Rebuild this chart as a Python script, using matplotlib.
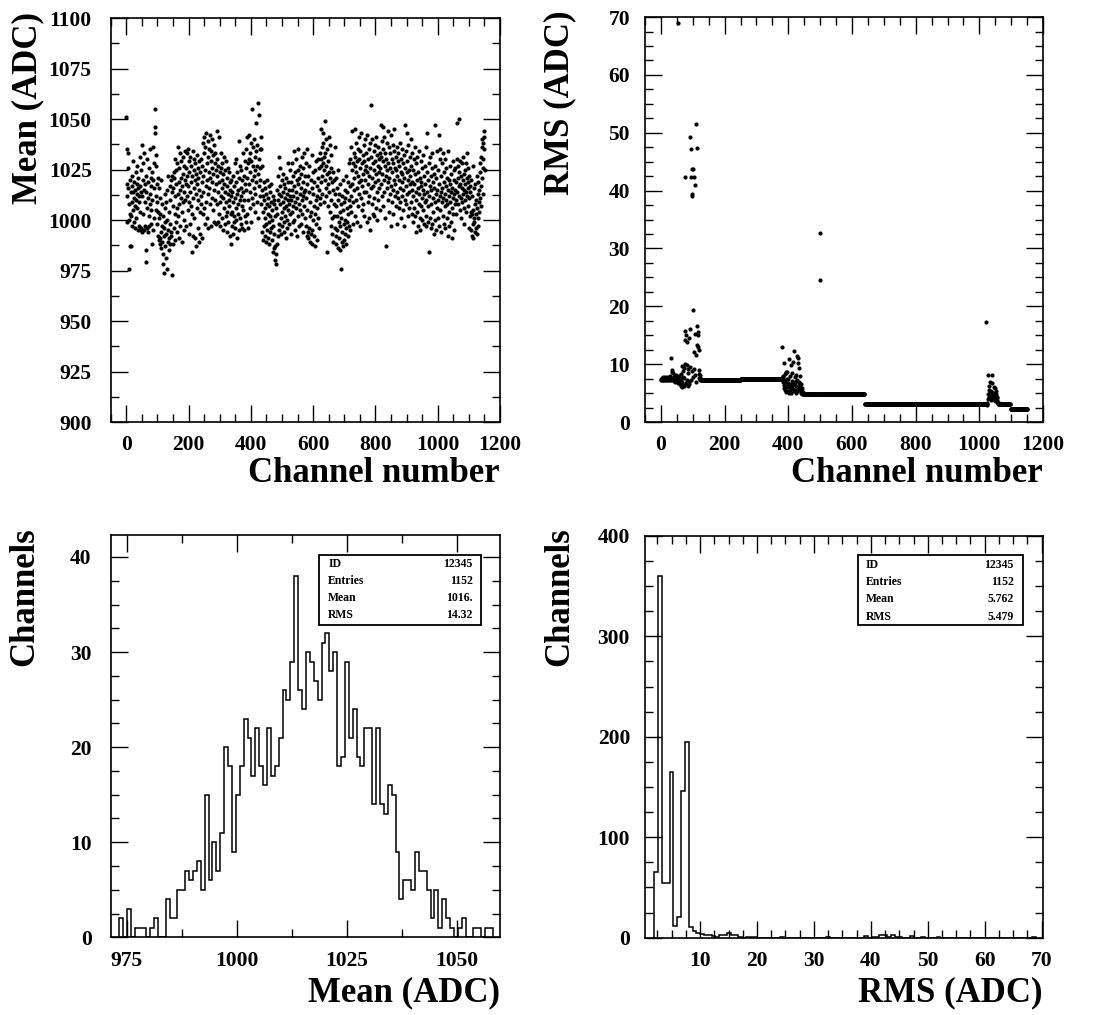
import matplotlib.pyplot as plt
import numpy as np
from matplotlib.ticker import MultipleLocator
from matplotlib.patches import Rectangle

plt.rcParams['font.family'] = ['Liberation Serif', 'DejaVu Serif']
plt.rcParams['font.weight'] = 'bold'

# ---- data -------------------------------------------------------------
n_channels = 1152
channel = np.arange(n_channels)

# pedestal mean per channel, minus 1000 ADC (read block by block, 48 per line)
mean_minus_1000 = [
    51, 18, 35, 12, -1, 26, 33, 16, -24, 0, 8, 20, 3, -13, 14, -13, 2, 17, 9, 22, -3, 14, 29, 5, 11, -1, 19, 7, 15, -4, 24, 10, 1, 18, 13, 6, 27, -5, 16, 21, 9, -3, 12, 31, 4, 17, -5, 14,
    -4, 25, 37, 12, -6, 20, 28, 3, 15, -5, 33, 9, 18, -3, 22, -21, -15, 14, 6, 30, -4, 11, 19, -6, 26, 2, -3, 13, 35, 8, 21, -2, 17, 5, -12, 24, 10, 36, -5, 20, 28, 1, 16, 55, 46, 43, 27, 12,
    5, 32, -2, 18, 9, -8, 21, 4, -10, 16, 1, -12, -9, 11, 3, -14, -6, 20, -11, -3, 8, -17, -22, 2, -8, -26, -4, 13, -13, 6, -1, -19, 9, -7, -24, 15, 0, -11, -5, 22, -15, 4, -9, 17, -2, -12, 10, -6,
    20, -8, 14, -27, 22, -12, 7, 16, -4, 24, 21, 3, -10, 12, 30, -1, 18, 25, 6, -6, 28, 13, 36, 2, 19, -9, 26, 8, 15, 33, -3, 21, 11, 29, 4, 17, -11, 23, 9, 31, 14, 0, 27, -5, 20, 34, 10, 18,
    26, -3, 33, 12, 22, 5, 35, 17, -7, 29, 9, 24, 14, -2, 31, 19, 7, 27, -16, 22, 3, 34, 11, -8, 25, 16, 30, 1, 20, -9, 28, 13, -13, 23, 6, 32, 18, -4, 26, 10, 21, -11, 15, 29, 4, -7, 24, 8,
    12, 30, -9, 19, 27, 3, 38, 22, 14, 41, 6, 33, 25, -2, 36, 17, 9, 43, 28, 1, 20, 39, 13, 31, -4, 24, 35, 16, 8, 42, 21, 29, -3, 34, 11, 26, 19, 40, 5, 32, 23, -1, 37, 15, 28, 10, 33, 18,
    25, -2, 22, 8, 44, 30, 14, -1, 27, 19, 3, 41, 24, 9, -3, 26, 12, 33, 20, 1, 16, 28, -5, 23, 11, 31, 6, 18, -2, 25, 14, 2, 29, 9, 21, -6, 17, 4, 26, 13, -1, 10, 24, 7, 19, -8, 15, 3,
    12, -12, 20, 4, -3, 14, 22, -7, 9, 2, 17, -1, 28, 11, -4, 6, 19, 30, 0, 13, -9, 24, 8, 15, 3, 39, -5, 21, 10, 27, 1, 16, -2, 12, 25, -4, 20, 7, 33, 14, 5, -5, 22, 10, 2, 18, 29, -1,
    26, 15, 35, 3, 21, 41, 28, 10, -4, 30, 18, 42, 24, 6, 33, 14, 29, -1, 38, 20, 11, 55, 27, 36, 8, 22, 40, 16, 31, 4, 25, 13, 34, 19, 48, 9, 27, 37, 23, 1, 58, 30, 17, 52, 26, 35, 12, 20,
    35, 41, 8, 27, 15, -6, 12, -10, 4, 19, -3, 10, -8, 6, 16, 1, -11, 13, -2, 8, 20, -5, 3, 11, -9, 17, -1, 7, -12, 14, 2, -6, 9, -4, 18, 0, -10, 5, -16, 12, -3, 8, -14, -7, 10, -20, 2, -13,
    -22, -17, 6, -12, 15, 3, -8, 22, 10, -2, 31, 13, -5, 26, 8, 17, 1, -7, 12, 20, 4, -3, 9, 23, 14, -1, 6, 18, -6, 11, 2, 16, -9, 7, 21, 0, 13, -4, 19, 5, 28, 10, -2, 15, 8, 25, 3, 12,
    -7, 19, 10, 28, 4, 15, -1, 22, 12, 7, 34, 17, 0, 24, 9, -5, 14, 30, 6, 20, -8, 11, 25, 2, 18, 35, 8, -3, 21, 13, 27, 5, 16, -2, 23, 10, 31, 3, 19, 12, -6, 26, 14, 33, 7, 1, 22, 15,
    -3, 28, 11, -8, 18, 35, 5, -6, 22, -9, 14, -4, 27, 2, -11, 9, -7, 20, 4, -12, 16, 32, -5, 13, 0, 24, -8, 7, 19, -13, 3, 25, 10, -2, 29, 6, 17, -10, 12, 30, 1, 21, -4, 15, 26, 8, 33, 11,
    27, 19, 45, 30, 22, 36, 13, 43, 28, 38, 9, 31, 25, 49, 20, 33, 16, 40, 27, 12, 35, 23, -16, 18, 29, 7, 41, 14, 24, 4, 37, 21, -3, 26, 10, 32, 1, 19, -7, 15, 24, -11, 8, 20, 2, 36, -4, 13,
    -8, 7, 21, -12, 2, 16, -5, 10, -14, 25, -1, -9, 13, 4, -15, 18, -3, 8, -24, 1, -11, 12, -6, 20, -13, 5, -2, 9, -10, 15, -7, 0, 11, -4, 22, -12, 6, -1, 14, -8, 3, 19, -3, 10, 28, -5, 7, 17,
    30, 12, 36, 4, 25, 18, 44, 9, 28, -2, 33, 21, 15, 45, 27, 2, 31, 10, 24, 38, 16, -1, 29, 35, 7, 22, 41, 19, 13, 30, -3, 26, 34, 11, 20, 43, 5, 28, 17, 32, 23, 8, 37, 14, 29, 2, 25, 40,
    20, 33, 14, 27, -1, 24, 42, 9, 30, 18, 1, 35, 22, 12, 38, -5, 26, 16, 57, 31, 8, 21, 40, 3, 28, 17, 34, 11, 25, 2, 37, 19, 29, 6, 23, 41, 14, 32, 0, 27, 20, 36, 10, 24, 16, 30, 5, 33,
    26, 47, 18, 31, 12, 39, 23, 46, 29, 7, 35, 20, 14, 41, 27, 1, 33, 22, -13, 30, 16, 38, 25, 10, 44, 19, 28, 4, 36, 21, 13, 33, 26, -3, 42, 17, 30, 9, 24, 37, 15, 28, 3, 34, 20, 45, 12, 26,
    18, 31, 7, 25, 36, 14, 22, -2, 29, 11, 33, 20, 6, 27, 16, 38, 9, 24, 1, 30, 19, 12, 35, 23, 5, 28, 15, -3, 32, 21, 10, 26, 47, 17, 8, 34, 24, 13, 43, 29, 2, 20, 37, 14, 25, 6, 31, 18,
    22, 40, 9, 27, 15, 3, 33, 19, -1, 25, 12, 30, 6, 18, 36, 2, 23, 14, -6, 28, 10, 20, 4, 31, 16, -3, 24, 8, 34, 13, 1, 21, -5, 17, 29, 7, 19, 11, 26, 0, 15, 32, 5, 22, -2, 13, 27, 9,
    18, -3, 10, 36, 2, 24, 14, 43, -1, 20, 7, -16, 28, 12, 1, 31, 17, -4, 22, 8, 15, 33, -2, 26, 11, 4, 19, -7, 23, 16, 0, 47, 9, 27, 13, -5, 21, 6, 34, 15, 1, 25, 10, 42, 18, -3, 30, 12,
    5, 35, 14, -6, 22, 9, 28, 16, 2, 33, 11, -2, 19, 24, 7, 13, 30, -4, 17, 10, 26, 1, 21, 8, -8, 15, 34, 4, 12, 20, -3, 27, 9, 18, -1, 14, 23, 6, -9, 16, 11, 29, 3, 20, -5, 13, 25, 8,
    15, 26, 10, 19, 3, 30, 14, 48, 21, 8, 27, 17, 50, 12, 24, 5, 29, 18, 11, 22, 1, 16, 28, 9, 20, 13, 31, 6, 23, 15, -2, 25, 18, 10, 28, 14, 4, 21, 33, 12, 19, 7, 26, 16, -4, 22, 11, 17,
    2, 14, -5, 20, 4, -8, 12, 3, -2, 27, 5, -9, 16, 1, -1, 8, -6, 18, 3, 10, -4, 22, 6, -7, 13, 1, 19, -3, 9, 15, 4, 24, 11, 28, 7, 31, 17, 36, 21, 40, 26, 13, 38, 30, 44, 35, 41, 25,
]
mean_adc = 1000 + np.array(mean_minus_1000, dtype=float)

# pedestal RMS per channel: flat bands plus the noisy regions read point by point
rms_bands = [(130, 250, 7.2), (250, 380, 7.5), (450, 640, 4.9),
             (640, 1020, 3.1), (1060, 1098, 3.2), (1098, 1152, 2.3)]
rms_ch0_129 = [
    7.5, 7.3, 7.6, 7.4, 7.2, 7.5, 7.7, 7.3, 7.4, 7.6,
    7.3, 7.5, 7.8, 7.4, 7.2, 7.6, 7.5, 7.3, 7.7, 7.4,
    7.6, 7.2, 7.5, 7.3, 7.8, 7.4, 7.6, 7.5, 7.3, 7.9,
    7.4, 11.1, 7.6, 7.2, 8.7, 7.5, 9.0, 7.3, 7.6, 8.4,
    7.5, 7.1, 7.7, 7.4, 7.9, 6.9, 7.6, 7.3, 8.1, 7.5,
    7.2, 7.8, 6.8, 7.5, 7.4, 68.9, 7.7, 7.1, 8.0, 7.3,
    6.6, 7.6, 8.3, 6.3, 7.4, 9.6, 6.9, 6.1, 7.8, 8.8,
    6.4, 9.4, 6.2, 7.6, 42.4, 15.8, 14.1, 10.1, 6.7, 15.0,
    6.5, 9.8, 7.2, 13.9, 6.3, 8.4, 9.1, 7.0, 6.6, 14.6,
    16.0, 9.5, 49.3, 47.2, 7.3, 42.3, 39.4, 8.9, 43.8, 39.1,
    19.4, 7.8, 43.8, 12.1, 9.2, 42.3, 40.9, 15.3, 8.2, 11.6,
    51.5, 6.9, 47.4, 16.6, 13.4, 15.5, 12.9, 15.1, 9.0, 8.3,
    7.6, 12.4, 7.4, 8.1, 7.3, 7.5, 7.2, 7.4, 7.3, 7.2,
]
rms_ch380_449 = [
    7.6, 12.9, 8.0, 6.9, 7.8, 5.8, 7.2, 6.4, 10.2, 8.3,
    5.6, 7.0, 6.2, 8.6, 5.2, 7.4, 8.7, 6.0, 5.4, 6.8,
    7.5, 5.1, 6.6, 10.9, 6.1, 5.5, 7.9, 5.9, 9.9, 6.4,
    5.0, 7.1, 6.3, 8.5, 5.7, 6.8, 10.4, 5.3, 12.2, 6.5,
    7.7, 5.6, 6.9, 8.2, 5.1, 6.2, 11.5, 7.3, 5.4, 6.0,
    11.1, 10.2, 6.7, 9.4, 5.8, 7.0, 8.0, 5.5, 6.3, 5.2,
    6.6, 5.0, 5.9, 4.9, 5.3, 5.1, 5.0, 4.8, 4.9, 5.0,
]
rms_ch1020_1059 = [
    3.1, 3.2, 17.3, 3.0, 3.1, 3.3, 4.8, 8.2, 3.9, 5.6,
    4.4, 6.3, 5.1, 4.1, 7.0, 4.6, 3.8, 5.4, 4.2, 6.8,
    4.5, 8.1, 3.9, 5.0, 4.3, 6.1, 4.0, 4.7, 3.7, 5.8,
    4.2, 4.9, 3.9, 5.3, 4.1, 4.4, 3.6, 3.5, 3.4, 3.3,
]
rms_spikes = {499: 32.6, 500: 24.5}

rms_adc = np.zeros(n_channels)
for lo, hi, level in rms_bands:
    rms_adc[lo:hi] = level
rms_adc[0:130] = rms_ch0_129
rms_adc[380:450] = rms_ch380_449
rms_adc[1020:1060] = rms_ch1020_1059
for ch, val in rms_spikes.items():
    rms_adc[ch] = val

# histogram of the means (96 bins)
mean_hist_counts = [
    2, 0, 3, 0, 1, 1, 1, 0, 1, 2, 0, 0, 4, 2, 2, 5, 5, 7, 6, 7, 8, 5, 15, 6, 10, 7, 11, 20, 18,
    9, 15, 18, 23, 21, 17, 22, 18, 16, 22, 17, 18, 21, 26, 25, 29, 38, 26, 24, 30, 29, 27, 25,
    31, 32, 28, 30, 18, 19, 29, 21,
    24, 19, 18, 22, 22, 14, 22, 14, 13, 16, 15, 9, 4, 6, 6, 5, 9, 7, 7, 5, 2, 5, 1, 4, 2, 1, 0,
    1, 2, 0, 0, 1, 1, 0, 1, 1,
]
mean_hist_range = (973.3, 1058.2)

# histogram of the RMS values (100 bins)
rms_hist_counts = [
    65, 360, 54, 54, 165, 12, 21, 146, 195, 11,
    7, 5, 4, 3, 3, 2, 1, 3, 3, 5,
    3, 3, 1, 0, 1, 1, 1, 0, 0, 0,
    0, 0, 0, 1, 0, 0, 0, 0, 0, 0,
    0, 0, 0, 0, 0, 1, 0, 0, 0, 0,
    0, 0, 0, 0, 0, 2, 0, 1, 1, 3,
    3, 1, 3, 1, 1, 0, 0, 2, 0, 0,
    1, 0, 0, 0, 1, 0, 0, 0, 0, 0,
    0, 0, 0, 0, 0, 0, 0, 0, 0, 0,
    0, 0, 0, 0, 0, 0, 0, 0, 0, 1,
]
rms_hist_range = (1.98, 68.95)

stat_names = ["ID", "Entries", "Mean", "RMS"]
mean_stats = ["12345", "1152", "1016.", "14.32"]
rms_stats = ["12345", "1152", "5.762", "5.479"]

# ---- figure -----------------------------------------------------------
fig = plt.figure(figsize=(11, 10.15), dpi=100)
ax1 = fig.add_axes([0.1006, 0.5842, 0.3539, 0.398])
ax2 = fig.add_axes([0.5864, 0.5842, 0.3618, 0.399])
ax3 = fig.add_axes([0.1006, 0.0765, 0.3539, 0.3963])
ax4 = fig.add_axes([0.5864, 0.0762, 0.3621, 0.3958])


def style(ax, xmaj, xmin, ymaj, ymin, ypad):
    ax.xaxis.set_major_locator(MultipleLocator(xmaj))
    ax.xaxis.set_minor_locator(MultipleLocator(xmin))
    ax.yaxis.set_major_locator(MultipleLocator(ymaj))
    ax.yaxis.set_minor_locator(MultipleLocator(ymin))
    ax.tick_params(which='both', direction='in', top=True, right=True,
                   width=1.0, labelsize=15.5)
    ax.tick_params(which='major', length=12)
    ax.tick_params(which='minor', length=6)
    ax.tick_params(axis='y', pad=ypad)
    ax.tick_params(axis='x', pad=9.5)
    for s in ax.spines.values():
        s.set_linewidth(1.2)


# scatter: mean vs channel
ax1.plot(channel, mean_adc, 'o', color='black', ms=3.0, mec='none')
ax1.set_xlim(-50, 1200)
ax1.set_ylim(900, 1100)
style(ax1, 200, 50, 25, 12.5, 13.7)

# scatter: rms vs channel
ax2.plot(channel, rms_adc, 'o', color='black', ms=3.0, mec='none')
ax2.set_xlim(-50, 1200)
ax2.set_ylim(0, 70)
style(ax2, 200, 50, 10, 2.5, 10.8)

# histogram of means
edges_mean = np.linspace(mean_hist_range[0], mean_hist_range[1], len(mean_hist_counts) + 1)
ax3.stairs(mean_hist_counts, edges_mean, color='black', lw=1.1)
ax3.set_xlim(971.4, 1059.8)
ax3.set_ylim(0, 42.3)
style(ax3, 25, 12.5, 10, 2.5, 13.7)

# histogram of rms
edges_rms = np.linspace(rms_hist_range[0], rms_hist_range[1], len(rms_hist_counts) + 1)
ax4.stairs(rms_hist_counts, edges_rms, color='black', lw=1.1)
ax4.set_xlim(0.34, 70.3)
ax4.set_ylim(0, 400)
style(ax4, 10, 2.5, 100, 25, 10.8)


def stats_box(ax, x0, x1, y0, y1, lx, rx, rows_y, values):
    ax.add_patch(Rectangle((x0, y0), x1 - x0, y1 - y0, transform=ax.transAxes,
                           fill=True, facecolor='white', edgecolor='black', lw=1.3, zorder=5))
    for name, val, yy in zip(stat_names, values, rows_y):
        ax.text(lx, yy, name, transform=ax.transAxes, fontsize=8.5,
                ha='left', va='center', zorder=6)
        ax.text(rx, yy, val, transform=ax.transAxes, fontsize=8.5,
                ha='right', va='center', zorder=6)


stats_box(ax3, 0.535, 0.951, 0.776, 0.950, 0.559, 0.930,
          [0.929, 0.887, 0.844, 0.801], mean_stats)
stats_box(ax4, 0.5355, 0.950, 0.778, 0.953, 0.555, 0.926,
          [0.928, 0.885, 0.842, 0.799], rms_stats)

# axis titles, placed like the PAW layout
fig.text(0.0255, 0.988, "Mean (ADC)", rotation=90, ha='center', va='top', fontsize=25)
fig.text(0.509, 0.990, "RMS (ADC)", rotation=90, ha='center', va='top', fontsize=25)
fig.text(0.4545, 0.525, "Channel number", ha='right', va='baseline', fontsize=25)
fig.text(0.948, 0.525, "Channel number", ha='right', va='baseline', fontsize=25)
fig.text(0.0227, 0.4808, "Channels", rotation=90, ha='center', va='top', fontsize=25)
fig.text(0.509, 0.4808, "Channels", rotation=90, ha='center', va='top', fontsize=25)
fig.text(0.4545, 0.0131, "Mean (ADC)", ha='right', va='baseline', fontsize=25)
fig.text(0.948, 0.0131, "RMS (ADC)", ha='right', va='baseline', fontsize=25)

fig.savefig("out.png", dpi=100)
